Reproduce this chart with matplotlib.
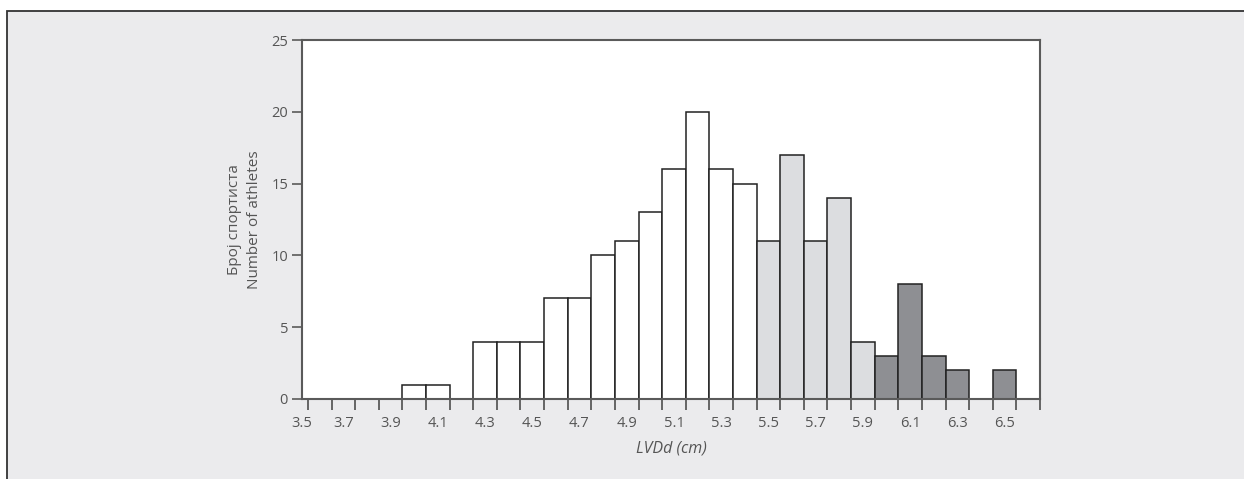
import numpy as np
import matplotlib.pyplot as plt
from matplotlib.patches import Rectangle
from matplotlib.ticker import FixedLocator

plt.rcParams['font.family'] = ['Open Sans', 'DejaVu Sans']

# histogram bins: 0.1 cm wide, first bin centred on 3.6 cm
bin_centers = [3.6, 3.7, 3.8, 3.9, 4.0, 4.1, 4.2, 4.3, 4.4, 4.5, 4.6, 4.7, 4.8,
               4.9, 5.0, 5.1, 5.2, 5.3, 5.4, 5.5, 5.6, 5.7, 5.8, 5.9, 6.0, 6.1,
               6.2, 6.3, 6.4, 6.5, 6.6]
counts = [0, 0, 0, 0, 1, 1, 0, 4, 4, 4, 7, 7, 10, 11, 13, 16, 20, 16, 15,
          11, 17, 11, 14, 4, 3, 8, 3, 2, 0, 2, 0]
# group of each bin: 0 = normal, 1 = upper range, 2 = enlarged
groups = [0] * 19 + [1] * 5 + [2] * 7

tick_labels = ['3.5', '3.7', '3.9', '4.1', '4.3', '4.5', '4.7', '4.9', '5.1',
               '5.3', '5.5', '5.7', '5.9', '6.1', '6.3', '6.5']
y_ticks = [0, 5, 10, 15, 20, 25]

group_colors = ['#ffffff', '#dcdde0', '#8e8f93']
bg = '#ebebed'
txt = '#555555'
spine = '#5a5a5a'

fig = plt.figure(figsize=(12.44, 4.79), dpi=100)
fig.patch.set_facecolor('white')
fig.patches.append(Rectangle((7 / 1244, -0.2), 1.5, 1.2 - 11 / 479,
                             transform=fig.transFigure, facecolor=bg,
                             edgecolor='#333333', linewidth=1.3, zorder=-10))

ax = fig.add_axes([302 / 1244, 1 - 399 / 479, (1040 - 302) / 1244, (399 - 40) / 479])
ax.set_facecolor('white')

width = 0.1
colors = [group_colors[g] for g in groups]
ax.bar(bin_centers, counts, width=width, color=colors, edgecolor='#222222',
       linewidth=1.1, zorder=2)

left = bin_centers[0] - width / 2
right = bin_centers[-1] + width / 2
ax.set_xlim(left, right)
ax.set_ylim(0, 25)

# tick marks on bin edges, labels on every other bin centre
edges = np.arange(len(bin_centers) + 1) * width + left
ax.xaxis.set_minor_locator(FixedLocator(edges))
label_pos = [left - 0.025] + bin_centers[1:30:2]
ax.set_xticks(label_pos)
ax.set_xticklabels(tick_labels)
ax.tick_params(axis='x', which='major', length=0, pad=12, labelsize=10.5, labelcolor=txt)
ax.tick_params(axis='x', which='minor', length=8, width=1.3, color=spine, direction='out')

ax.set_yticks(y_ticks)
ax.tick_params(axis='y', length=7, width=1.2, color=spine, labelsize=10.5,
               labelcolor=txt, pad=3)

for s in ax.spines.values():
    s.set_color(spine)
    s.set_linewidth(1.5)

ax.set_xlabel('LVDd (cm)', fontsize=11.5, color=txt, style='italic', labelpad=7)
ax.set_ylabel('Број спортиста\nNumber of athletes', fontsize=11, color=txt,
              linespacing=1.4, labelpad=7)

fig.savefig('out.png', dpi=100, facecolor=fig.get_facecolor())
